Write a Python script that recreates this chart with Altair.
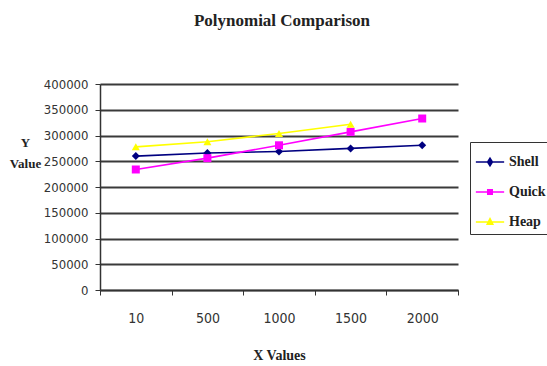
import altair as alt
import pandas as pd

x_labels = ["10", "500", "1000", "1500", "2000"]
series_names = ["Shell", "Quick", "Heap"]
shell = [260000, 266000, 269000, 275000, 281000]
quick = [234000, 256000, 281000, 307000, 333000]
heap = [278000, 288000, 304000, 322000, None]
colors = ["#000080", "#FF00FF", "#FFFF00"]
marker_shapes = ["diamond", "square", "triangle-up"]

rows = []
for name, vals in zip(series_names, [shell, quick, heap]):
    for xl, v in zip(x_labels, vals):
        if v is not None:
            rows.append({"series": name, "x": xl, "value": v})
df = pd.DataFrame(rows)

cscale = alt.Scale(domain=series_names, range=colors)
xenc = alt.X("x:N", sort=x_labels, scale=alt.Scale(paddingInner=0, paddingOuter=0),
             axis=alt.Axis(title="X Values", labelAngle=0, tickBand="extent",
                           labelPadding=16, titleY=65, titleBaseline="middle",
                           titleFont="Liberation Serif", titleFontSize=14,
                           titleFontWeight="bold", labelFontSize=14))
yenc = alt.Y("value:Q", scale=alt.Scale(domain=[0, 400000]),
             axis=alt.Axis(title=["Y", "Value"], values=list(range(0, 400001, 50000)),
                           format="d", titleAngle=0, titleX=-75, titleY=52,
                           titleAlign="center", titleBaseline="top",
                           titleFont="Liberation Serif", titleFontSize=13,
                           titleFontWeight="bold", titleLineHeight=21,
                           labelPadding=7, labelFontSize=13, grid=True))

base = alt.Chart(df)

lines = base.mark_line(strokeWidth=1.6).encode(
    x=xenc, y=yenc,
    color=alt.Color("series:N", scale=cscale, legend=None),
    detail="series:N",
)

point_layers = []
for name, shp in zip(series_names, marker_shapes):
    point_layers.append(
        base.transform_filter(alt.datum.series == name).mark_point(
            filled=True, size=64, opacity=1, shape=shp).encode(
            x=xenc, y=yenc,
            color=alt.Color("series:N", scale=cscale, legend=None),
        )
    )

leg_paths = [
    "M-1,0L1,0M0,-0.27L0.17,0L0,0.27L-0.17,0Z",
    "M-1,0L1,0M-0.16,-0.16L0.16,-0.16L0.16,0.16L-0.16,0.16Z",
    "M-1,0L1,0M0,-0.24L0.2,0.16L-0.2,0.16Z",
]
legend = alt.Legend(title=None, orient="none", legendX=370, legendY=58,
                    padding=5, rowPadding=8, symbolSize=800, symbolStrokeWidth=1.5,
                    labelFont="Liberation Serif", labelFontSize=14,
                    labelFontWeight="bold", labelColor="#222", labelOffset=4,
                    strokeColor="#333", fillColor="white")
legend_layer = base.transform_filter(alt.datum.value < 0).mark_point(
    filled=True, opacity=1).encode(
    x=xenc, y=yenc,
    color=alt.Color("series:N", scale=cscale, legend=legend, sort=series_names),
    stroke=alt.Stroke("series:N", scale=cscale, legend=legend, sort=series_names),
    shape=alt.Shape("series:N", scale=alt.Scale(domain=series_names, range=leg_paths),
                    legend=legend, sort=series_names),
)

label_font = "Liberation Sans Narrow, DejaVu Sans Condensed, Arial Narrow, Liberation Sans"

chart = alt.layer(lines, *point_layers, legend_layer).resolve_legend(
    color="independent", stroke="independent", shape="independent"
).properties(
    width=358, height=206,
    padding={"left": 100, "top": 84, "right": 89, "bottom": 76},
    autosize=alt.AutoSizeParams(type="none"),
    title=alt.Title("Polynomial Comparison", font="Liberation Serif", fontSize=17,
                    fontWeight="bold", color="#222", offset=48, dx=3, anchor="middle"),
    background="white",
).configure_view(strokeWidth=0).configure_axis(
    labelFont=label_font, labelColor="#333",
    domainColor="#333", domainWidth=1.5, tickColor="#333", tickSize=5,
    gridColor="#3a3a3a", gridWidth=1.8, titleColor="#222",
)

chart.save("out.html", embed_options={"renderer": "svg", "actions": False})
